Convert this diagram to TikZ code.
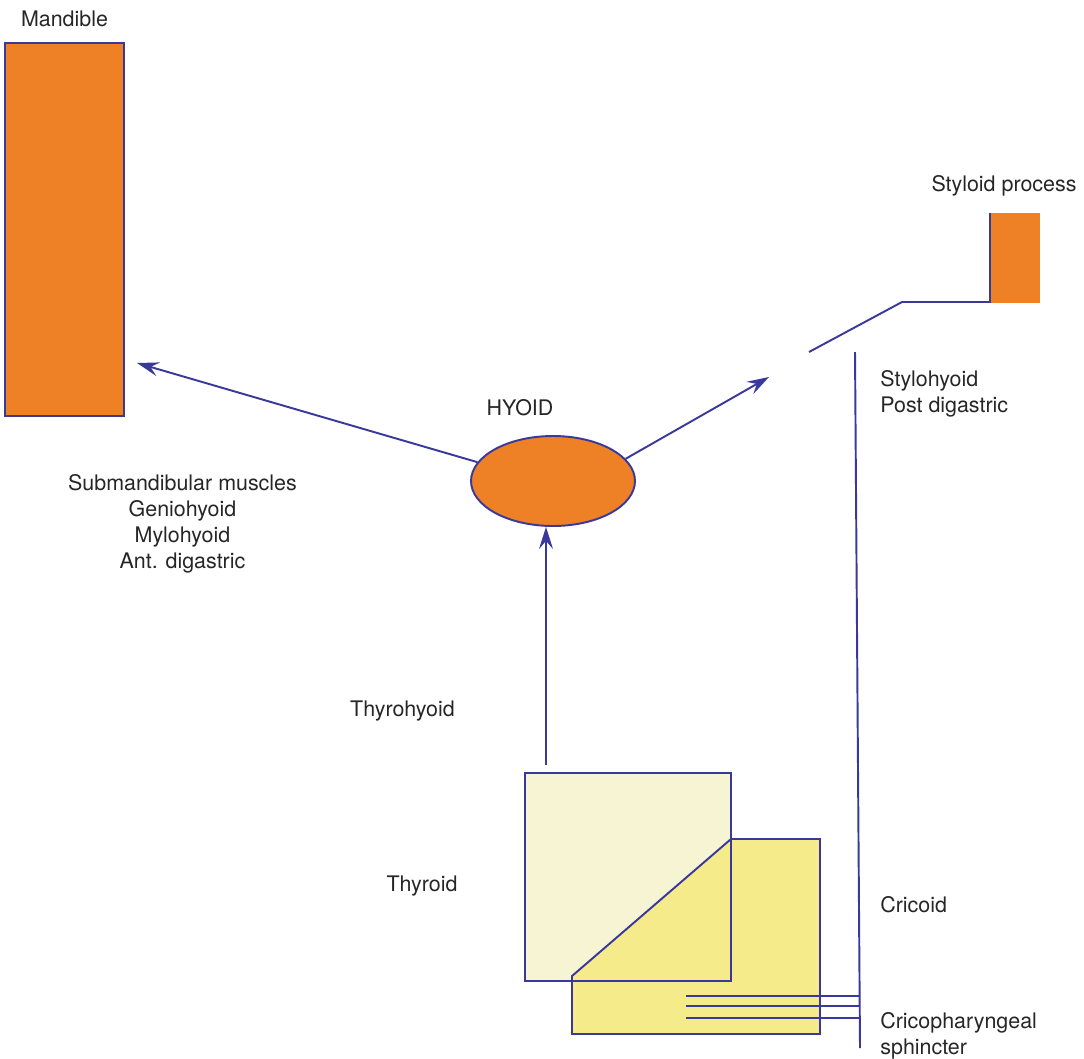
\documentclass[tikz,border=0pt]{standalone}
\usepackage{fontspec}
\setmainfont{TeX Gyre Heros}
\definecolor{BoneOrange}{HTML}{EE8126}
\definecolor{MuscleBlue}{HTML}{38399A}
\definecolor{ThyroidFill}{HTML}{F7F4D4}
\definecolor{CricoidFill}{HTML}{F6EB8A}
\usetikzlibrary{arrows.meta, positioning, calc, shapes.geometric}

\begin{document}
\begin{tikzpicture}[x=0.02cm, y=-0.02cm,
    >={Stealth[length=4.4mm, width=2.8mm, inset=1.6mm]},
    muscle/.style={draw=MuscleBlue, line width=1.1pt},
    bone/.style={fill=BoneOrange, draw=MuscleBlue, line width=1.1pt},
    lbl/.style={inner sep=0pt, font=\fontsize{12.2}{14.9}\selectfont, text=black!85}]
  \useasboundingbox (0,0) rectangle (1084,1058);
  % Mandible
  \node[bone, rectangle, inner sep=0pt, minimum width=2.38cm, minimum height=7.46cm]
    (mandible) at (64.5,229.5) {};
  \node[lbl] (mandlbl) at (64.5,19) {Mandible};
  % Styloid process (only the left edge is outlined)
  \fill[BoneOrange] (990,213) rectangle (1040,303);
  \node[lbl] (stylbl) at (1004,186) {Styloid process};
  \coordinate (sty top) at (990,213);
  \coordinate (sty base) at (990,302);
  \coordinate (sty knee) at (902,302);
  \coordinate (sty end) at (809,352);
  \draw[muscle] (sty top) -- (sty base) -- (sty knee) -- (sty end);
  % Hyoid
  \node[bone, ellipse, inner sep=0pt, minimum width=3.28cm, minimum height=1.8cm]
    (hyoid) at (553,481) {};
  \node[lbl] (hyoidlbl) at (520,408) {HYOID};
  % Submandibular muscles
  \coordinate (mand tip) at (137,363);
  \draw[muscle, ->] (hyoid.166) -- (mand tip);
  \node[lbl, align=center] (submand) at (182.5,524)
    {Submandibular muscles\\Geniohyoid\\Mylohyoid\\Ant. digastric};
  % Stylohyoid / post digastric
  \coordinate (sty tip) at (769,377);
  \draw[muscle, ->] (hyoid.17) -- (sty tip);
  \node[lbl, align=left, anchor=west] (stylohy) at (880,394)
    {Stylohyoid\\Post digastric};
  % Thyroid and cricoid
  \fill[ThyroidFill] (525,773) rectangle (731,981);
  \draw[muscle, fill=CricoidFill] (572,976) -- (731,839) -- (820,839)
    -- (820,1034) -- (572,1034) -- cycle;
  \draw[muscle] (525,773) rectangle (731,981);
  \node[lbl] (thyrlbl) at (422,886) {Thyroid};
  \node[lbl, anchor=west] (crilbl) at (880,905) {Cricoid};
  % Thyrohyoid
  \coordinate (thy top) at (546,765);
  \draw[muscle, ->] (thy top) -- (thy top |- hyoid.south);
  \node[lbl] (thyhylbl) at (402.5,711) {Thyrohyoid};
  % Pharyngeal line and cricopharyngeal sphincter
  \coordinate (phar top) at (855,352);
  \coordinate (phar bot) at (860,1048);
  \draw[muscle] (phar top) -- (phar bot);
  \foreach \yy in {996,1006,1018}
    \draw[muscle] (686,\yy) -- (859,\yy);
  \node[lbl, align=left, anchor=west] (cplbl) at (880,1035.5)
    {Cricopharyngeal\\sphincter};
\end{tikzpicture}
\end{document}
